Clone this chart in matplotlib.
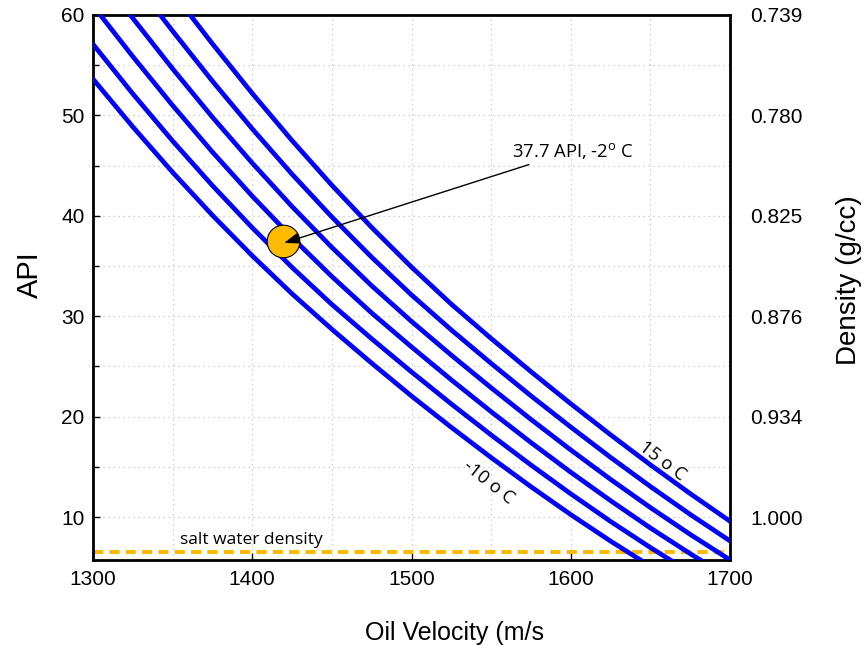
import matplotlib
matplotlib.use("Agg")
import matplotlib.pyplot as plt
from matplotlib.ticker import MultipleLocator

# ---- data (oil velocity m/s vs API gravity) ----
temps = ["-10", "-5", "0", "5", "10", "15"]

vel_c1 = [1300, 1325, 1350, 1375, 1400, 1425, 1450, 1475, 1500, 1525, 1550,
          1575, 1600, 1625, 1650]
api_c1 = [53.62, 48.86, 44.33, 40.05, 36.02, 32.23, 28.70, 25.32, 22.05, 18.93,
          15.92, 13.02, 10.24, 7.60, 5.10]

vel_c2 = [1300, 1325, 1350, 1375, 1400, 1425, 1450, 1475, 1500, 1525, 1550,
          1575, 1600, 1625, 1650, 1675]
api_c2 = [57.09, 52.15, 47.45, 43.01, 38.81, 34.86, 31.17, 27.75, 24.45, 21.26,
          18.17, 15.18, 12.31, 9.56, 6.96, 4.48]

vel_c3 = [1304.6, 1325, 1350, 1375, 1400, 1425, 1450, 1475, 1500, 1525, 1550,
          1575, 1600, 1625, 1650, 1675, 1700]
api_c3 = [60.0, 55.86, 50.99, 46.35, 41.96, 37.83, 33.95, 30.32, 26.94, 23.66,
          20.49, 17.42, 14.46, 11.63, 8.91, 6.35, 3.89]

vel_c4 = [1323.4, 1350, 1375, 1400, 1425, 1450, 1475, 1500, 1525, 1550, 1575,
          1600, 1625, 1650, 1675, 1700]
api_c4 = [60.0, 54.64, 49.82, 45.25, 40.92, 36.85, 33.03, 29.48, 26.12, 22.87,
          19.72, 16.68, 13.75, 10.94, 8.27, 5.73]

vel_c5 = [1342.2, 1350, 1375, 1400, 1425, 1450, 1475, 1500, 1525, 1550, 1575,
          1600, 1625, 1650, 1675, 1700]
api_c5 = [60.0, 58.40, 53.41, 48.66, 44.14, 39.88, 35.87, 32.12, 28.63, 25.30,
          22.07, 18.96, 15.94, 13.04, 10.26, 7.62]

vel_c6 = [1361, 1375, 1400, 1425, 1450, 1475, 1500, 1525, 1550, 1575, 1600,
          1625, 1650, 1675, 1700]
api_c6 = [60.0, 57.13, 52.19, 47.49, 43.04, 38.84, 34.89, 31.20, 27.78, 24.48,
          21.28, 18.19, 15.20, 12.33, 9.58]

salt_water_api = 6.5
point_vel = 1419
point_api = 37.5

api_ticks = [10, 20, 30, 40, 50, 60]
density_labels = ["1.000", "0.934", "0.876", "0.825", "0.780", "0.739"]
vel_ticks = [1300, 1400, 1500, 1600, 1700]

curves = [(vel_c1, api_c1), (vel_c2, api_c2), (vel_c3, api_c3),
          (vel_c4, api_c4), (vel_c5, api_c5), (vel_c6, api_c6)]

# ---- figure ----
plt.rcParams['font.family'] = ['Liberation Sans', 'DejaVu Sans']
fig = plt.figure(figsize=(8.64, 6.45), dpi=100)
ax = fig.add_axes([93/864, 1-560/645, (730-93)/864, (560-15)/645])

for v, a in curves:
    ax.plot(v, a, color='#0000FF', lw=3.4, solid_joinstyle='round', zorder=3)

ax.axhline(salt_water_api, color='#FFB800', lw=2.8, ls=(0, (2.6, 1.6)), zorder=2)

ax.plot([point_vel], [point_api], 'o', ms=23.5, mfc='#FFBB00', mec='black',
        mew=0.8, zorder=5)

ann_font = ['Open Sans', 'DejaVu Sans']
ax.annotate('37.7 API, -2$^{\\mathregular{o}}$ C', xy=(point_vel + 1, point_api - 0.2),
            xytext=(1563, 46.5), fontsize=13.3, family=ann_font,
            va='center', ha='left',
            arrowprops=dict(arrowstyle='-|>,head_length=0.7,head_width=0.25',
                            color='black', lw=1.0, shrinkA=3, shrinkB=0),
            zorder=6)

ax.text(1354.5, 6.95, 'salt water density', fontsize=12.5, family=ann_font,
        ha='left', va='bottom')
ax.text(1548.2, 13.44, '-10 o C', fontsize=13.3, family=ann_font, rotation=-38,
        ha='center', va='center', rotation_mode='anchor')
ax.text(1657.3, 15.55, '15 o C', fontsize=13.3, family=ann_font, rotation=-37,
        ha='center', va='center', rotation_mode='anchor')

ax.set_xlim(1300, 1700)
ax.set_ylim(5.72, 60)
ax.set_xticks(vel_ticks)
ax.xaxis.set_minor_locator(MultipleLocator(50))
ax.set_yticks(api_ticks)
ax.yaxis.set_minor_locator(MultipleLocator(5))
ax.grid(which='both', color='#c4c4c4', ls=(0, (1, 3)), lw=0.9)
ax.tick_params(which='both', direction='in', labelsize=15, width=1.0)
ax.tick_params(which='major', length=5)
ax.tick_params(which='minor', length=4)
ax.tick_params(axis='x', which='minor', length=0)
ax.tick_params(axis='x', pad=7)
ax.tick_params(axis='y', pad=6)

for s in ax.spines.values():
    s.set_linewidth(2.0)
    s.set_color('black')

ax.set_xlabel('Oil Velocity (m/s', fontsize=18)
ax.xaxis.set_label_coords(0.568, -0.112)
ax.set_ylabel('API', fontsize=21)
ax.yaxis.set_label_coords(-0.077, 0.523)

ax2 = ax.twinx()
ax2.set_ylim(ax.get_ylim())
ax2.set_yticks(api_ticks)
ax2.set_yticklabels(density_labels)
ax2.yaxis.set_minor_locator(MultipleLocator(5))
ax2.tick_params(which='both', direction='in', labelsize=15, width=1.0, pad=14.4)
ax2.tick_params(which='major', length=0)
ax2.tick_params(which='minor', length=0)
for s in ax2.spines.values():
    s.set_visible(False)
ax2.set_ylabel('Density (g/cc)', fontsize=20)
ax2.yaxis.set_label_coords(1.166, 0.514)

fig.savefig('out.png', dpi=100)
